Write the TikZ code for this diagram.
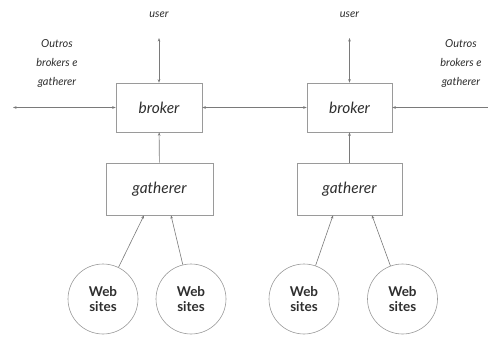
\documentclass[tikz,border=0pt]{standalone}
\usepackage{fontspec}
\setmainfont{Lato}
\usepackage{tikz}
\usetikzlibrary{arrows.meta,positioning,calc}
\definecolor{cLineD}{HTML}{7A7A7A}
\definecolor{cBoxD}{HTML}{9A9A9A}
\definecolor{cTextT}{HTML}{2E2E2E}
\tikzset{
  box/.style    = {draw=cBoxD, line width=0.6pt, text=cTextT, inner sep=2pt,
                   font=\fontsize{15.5}{17}\selectfont\itshape},
  site/.style   = {circle, draw=cBoxD, line width=0.6pt, minimum size=70pt,
                   inner sep=0pt, align=center, text=cTextT,
                   font=\fontsize{13.5}{15}\selectfont\bfseries},
  note/.style   = {text=cTextT, align=center, inner sep=0pt,
                   font=\fontsize{11}{19}\selectfont\itshape},
  link/.style   = {cLineD, line width=0.6pt,
                   -{Stealth[length=3.5pt,width=2.6pt]}},
  blink/.style  = {link, {Stealth[length=3.5pt,width=2.6pt]}-{Stealth[length=3.5pt,width=2.6pt]}},
}

\begin{document}
\begin{tikzpicture}[x=1pt, y=-1pt]
  \useasboundingbox (0,0) rectangle (488,337);
  % brokers
  \node[box, minimum width=86pt, minimum height=49pt] (broker1) at (159,107.5) {broker};
  \node[box, minimum width=85pt, minimum height=49pt] (broker2) at (349.5,107.5) {broker};
  % gatherers
  \node[box, minimum width=107pt, minimum height=52pt] (gath1) at (159.5,189) {gatherer};
  \node[box, minimum width=105pt, minimum height=52pt] (gath2) at (349.5,189) {gatherer};
  % web sites
  \node[site] (ws1) at (103,299)   {Web\\sites};
  \node[site] (ws2) at (191,299)   {Web\\sites};
  \node[site] (ws3) at (304,299)   {Web\\sites};
  \node[site] (ws4) at (402.5,299) {Web\\sites};
  % users
  \node[note] (user1) at (159,15)   {user};
  \node[note] (user2) at (349.5,15) {user};
  \coordinate (u1) at (159,38);
  \coordinate (u2) at (349.5,38);
  % other brokers and gatherers
  \node[note] (outL) at (57,64)  {Outros\\brokers e\\gatherer};
  \node[note] (outR) at (461,64) {Outros\\brokers e\\gatherer};
  \coordinate (eL) at (13,107.5);
  \coordinate (eR) at (490,107.5);
  % connectors
  \draw[blink] (broker1) -- (u1);
  \draw[blink] (broker2) -- (u2);
  \draw[blink] (eL) -- (broker1);
  \draw[blink] (broker1) -- (broker2);
  \draw[link] (eR) -- (broker2);
  \draw[link] (gath1) -- (broker1);
  \draw[link] (gath2) -- (broker2);
  \draw[link] (ws1) -- ([xshift=-15.5pt]gath1.south);
  \draw[link] (ws2) -- ([xshift=11.5pt]gath1.south);
  \draw[link] (ws3) -- ([xshift=-16.5pt]gath2.south);
  \draw[link] (ws4) -- ([xshift=22.5pt]gath2.south);
\end{tikzpicture}
\end{document}
